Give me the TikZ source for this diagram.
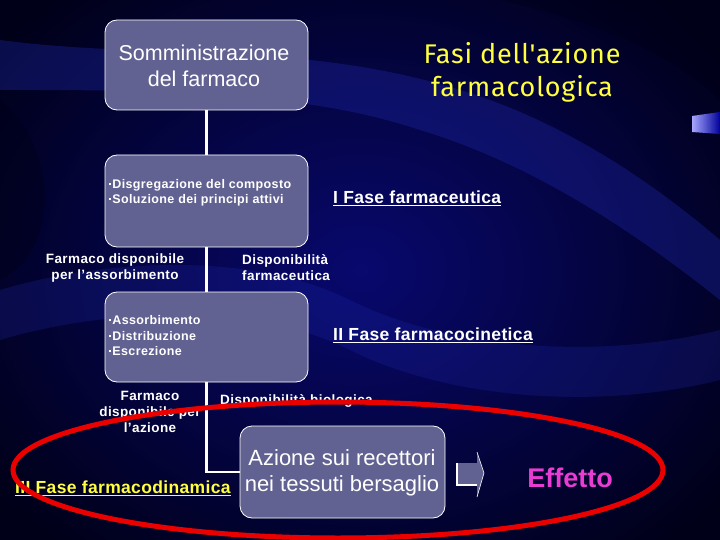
\documentclass[tikz,border=0pt]{standalone}
\usepackage{fontspec}
\setmainfont{Liberation Sans}
\newfontfamily\titlefont{Fira Sans}
\usetikzlibrary{shadings}
\definecolor{bgdark}{RGB}{0,0,24}
\definecolor{bgmid}{RGB}{8,8,110}
\definecolor{band}{RGB}{30,40,170}
\definecolor{boxfill}{RGB}{98,98,146}
\definecolor{titley}{RGB}{255,255,64}
\definecolor{effetto}{RGB}{232,60,210}
\definecolor{ellred}{RGB}{235,0,0}
\newcommand{\sqb}{\rule[0.28em]{2.2pt}{2.2pt}\hspace{1pt}}
\tikzset{
  box/.style={draw=white, line width=0.8pt, fill=boxfill, rounded corners=12pt, inner sep=0pt},
  conn/.style={draw=white, line width=2.6pt},
  boxtxt/.style={text=white, font=\bfseries\fontsize{12.5}{15.5}\selectfont\addfontfeature{LetterSpace=3}, align=left, anchor=west, inner sep=0pt},
  bigtxt/.style={text=white, font=\fontsize{21.5}{25.5}\selectfont, align=center, inner sep=0pt},
  lbl/.style={text=white, font=\bfseries\fontsize{13.5}{16}\selectfont\addfontfeature{LetterSpace=3}, inner sep=0pt},
  phase/.style={text=white, font=\bfseries\fontsize{17.5}{20}\selectfont\addfontfeature{LetterSpace=2}, anchor=west, inner sep=0pt}
}
\begin{document}
\begin{tikzpicture}[x=1pt,y=-1pt]
\useasboundingbox (0,0) rectangle (720,540);
% background
\shade[inner color=bgmid, outer color=bgdark] (-100,-100) rectangle (820,640);
\fill[band, opacity=0.35] (0,40) .. controls (150,60) and (300,40) .. (460,90) .. controls (560,120) and (650,180) .. (720,240) -- (720,300) .. controls (620,220) and (520,160) .. (420,130) .. controls (300,90) and (150,90) .. (0,90) -- cycle;
\fill[band, opacity=0.25] (0,290) .. controls (100,260) and (250,250) .. (350,300) .. controls (450,350) and (600,360) .. (720,330) -- (720,380) .. controls (600,410) and (450,400) .. (350,350) .. controls (250,300) and (100,310) .. (0,340) -- cycle;
\fill[bgdark, opacity=0.45] (500,0) .. controls (600,20) and (680,60) .. (720,100) -- (720,0) -- cycle;
\fill[bgdark, opacity=0.4] (0,100) .. controls (60,150) and (60,250) .. (0,280) -- cycle;
% small gradient mark at right edge
\shade[left color=blue!35!white, right color=blue!60!black] (692,116) -- (720,112) -- (720,134) -- (692,132) -- cycle;

% boxes
\node[box, minimum width=203pt, minimum height=90pt] (b1) at (206.5,65) {};
\node[bigtxt] (t1) at (204,66) {Somministrazione\\del farmaco};
\node[box, minimum width=203pt, minimum height=92pt] (b2) at (206.5,201) {};
\node[boxtxt] (t2) at (109,193) {\sqb Disgregazione del composto\\\sqb Soluzione dei principi attivi};
\node[box, minimum width=203pt, minimum height=90pt] (b3) at (206.5,337) {};
\node[boxtxt] (t3) at (109,336) {\sqb Assorbimento\\\sqb Distribuzione\\\sqb Escrezione};
\node[box, minimum width=205pt, minimum height=92pt] (b4) at (342.5,472) {};
\node[bigtxt, font=\fontsize{22}{25.5}\selectfont] (t4) at (342,473) {Azione sui recettori\\nei tessuti bersaglio};

% connectors
\draw[conn] (b1.south) -- (b2.north);
\draw[conn] (b2.south) -- (b3.north);
\draw[conn] (b3.south) |- (b4.west);

% labels
\node[lbl, align=center] (l1) at (115,268) {Farmaco disponibile\\per l'assorbimento};
\node[lbl, align=left, anchor=west] (l2) at (242,268) {Disponibilità\\farmaceutica};
\node[lbl, align=center] (l3) at (150,412) {Farmaco\\disponibile per\\l'azione};
\node[lbl, anchor=west] (l4) at (220,401) {Disponibilità biologica};

\node[phase] (p1) at (333,198) {\underline{I Fase farmaceutica}};
\node[phase] (p2) at (333,335) {\underline{II Fase farmacocinetica}};
\node[phase, text=titley] (p3) at (15,488) {\underline{III Fase farmacodinamica}};

% title
\node[text=titley, font=\titlefont\fontsize{27}{33}\selectfont\addfontfeature{LetterSpace=3}, align=center, inner sep=0pt] (title) at (522,72) {Fasi dell'azione\\farmacologica};

% block arrow
\fill[boxfill] (456,463) -- (477,463) -- (477,452) -- (484,473) -- (477,497) -- (477,485) -- (456,485) -- cycle;
\draw[white, line width=1.6pt] (456.8,463) -- (456.8,485.2) -- (477,485.2);
\draw[white, line width=0.6pt] (477,452) -- (484,473) -- (477,497);
\coordinate (arr) at (470,474);

\node[text=effetto, font=\bfseries\fontsize{27}{30}\selectfont, inner sep=0pt] (eff) at (570,478) {Effetto};

% red ellipse
\draw[ellred, line width=5pt] (338,470) ellipse [x radius=325, y radius=68];
\end{tikzpicture}
\end{document}
